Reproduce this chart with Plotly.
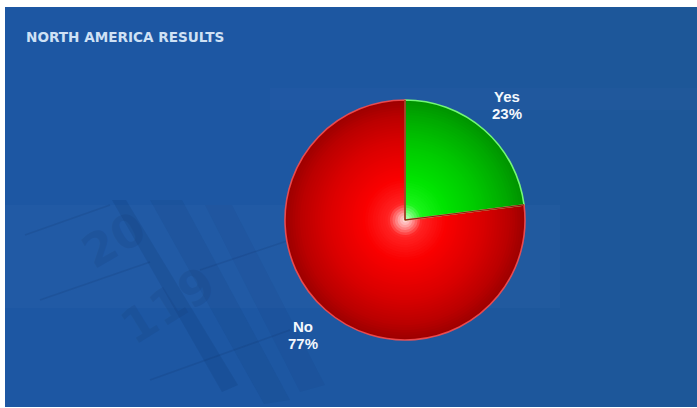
import plotly.graph_objects as go
import numpy as np

# Survey results
labels = ["Yes", "No"]
values = [23, 77]
title_text = "NORTH AMERICA RESULTS"

W, H = 697, 408
CX, CY, R = 405, 220, 120  # pie centre / radius in pixels

# Radial shading stops (fraction of radius -> rgb) for each slice
shade_stops = {
    "Yes": [(0.0, (215, 255, 215)), (0.06, (140, 255, 140)), (0.15, (25, 245, 25)),
            (0.35, (0, 228, 0)), (0.65, (0, 198, 0)), (0.88, (0, 168, 0)), (1.0, (0, 148, 0))],
    "No": [(0.0, (255, 235, 235)), (0.06, (255, 165, 165)), (0.15, (255, 35, 35)),
           (0.35, (250, 0, 0)), (0.65, (218, 0, 0)), (0.88, (185, 0, 0)), (1.0, (158, 0, 0))],
}
rim_colors = {"Yes": "rgba(120,255,120,0.95)", "No": "rgba(255,80,80,0.85)"}


def shade(name, t):
    stops = shade_stops[name]
    for (t0, c0), (t1, c1) in zip(stops[:-1], stops[1:]):
        if t <= t1:
            f = (t - t0) / (t1 - t0)
            c = [round(a + (b - a) * f) for a, b in zip(c0, c1)]
            return f"rgb({c[0]},{c[1]},{c[2]})"
    c = stops[-1][1]
    return f"rgb({c[0]},{c[1]},{c[2]})"


def domain_for(r):
    return dict(x=[(CX - r) / W, (CX + r) / W], y=[1 - (CY + r) / H, 1 - (CY - r) / H])


def px(x, y):
    return x / W, 1 - y / H


fig = go.Figure()

# Concentric pies give each slice a radial gradient
n_layers = 48
for i in range(n_layers):
    t = 1 - i / n_layers
    r = R * t
    fig.add_trace(go.Pie(
        labels=labels, values=values, sort=False, direction="clockwise", rotation=0,
        domain=domain_for(r),
        marker=dict(colors=[shade(l, t) for l in labels], line=dict(width=0)),
        textinfo="none", hoverinfo="skip", showlegend=False,
    ))

# Light rim around the outer edge
fig.add_trace(go.Pie(
    labels=labels, values=values, sort=False, direction="clockwise", rotation=0,
    domain=domain_for(R),
    marker=dict(colors=["rgba(0,0,0,0)"] * len(labels),
                line=dict(width=1.6, color=[rim_colors[l] for l in labels])),
    textinfo="none", hoverinfo="skip", showlegend=False,
))

shapes = []


def rect(x0, y0, x1, y1, col):
    a, b = px(x0, y1)
    c, d = px(x1, y0)
    return dict(type="rect", xref="paper", yref="paper", x0=a, y0=b, x1=c, y1=d,
                fillcolor=col, line=dict(width=0), layer="below")


# Backdrop: blue panel, softly lighter toward the upper left
shapes.append(rect(5, 7, W, 407, "#1d5797"))
for k in range(12):
    shapes.append(rect(5, 7, 700 - k * 40, 407, "rgba(120,170,235,0.012)"))
for k in range(10):
    shapes.append(rect(5, 7, W, 407 - k * 22, "rgba(120,170,235,0.008)"))
shapes.append(rect(5, 205, 560, 308, "rgba(150,190,240,0.03)"))
shapes.append(rect(270, 88, W, 110, "rgba(150,190,240,0.025)"))


# Faint calendar binding and rule lines in the backdrop
def path(points):
    pts = [px(x, y) for x, y in points]
    return "M " + " L ".join(f"{x:.5f},{y:.5f}" for x, y in pts) + " Z"


for pts, col in [
    ([(112, 200), (126, 200), (238, 385), (222, 392)], "rgba(10,40,90,0.14)"),
    ([(150, 200), (182, 200), (290, 400), (264, 404)], "rgba(10,40,90,0.09)"),
    ([(205, 205), (232, 205), (325, 385), (300, 392)], "rgba(10,40,90,0.06)"),
]:
    shapes.append(dict(type="path", xref="paper", yref="paper", path=path(pts),
                       fillcolor=col, line=dict(width=0), layer="below"))
for (x0, y0, x1, y1) in [(25, 235, 110, 205), (40, 300, 150, 262), (150, 380, 290, 330), (200, 270, 290, 240)]:
    a, b = px(x0, y0)
    c, d = px(x1, y1)
    shapes.append(dict(type="line", xref="paper", yref="paper", x0=a, y0=b, x1=c, y1=d,
                       line=dict(color="rgba(15,45,95,0.14)", width=1.5), layer="below"))

# Dark dividing lines between slices, at the cumulative slice angles
total = sum(values)
cum = np.cumsum([0] + values[:-1]) / total
for frac in cum:
    ang = 2 * np.pi * frac
    ex, ey = CX + R * np.sin(ang), CY - R * np.cos(ang)
    a, b = px(CX, CY)
    c, d = px(ex, ey)
    shapes.append(dict(type="line", xref="paper", yref="paper", x0=a, y0=b, x1=c, y1=d,
                       line=dict(color="rgba(110,20,0,0.85)", width=1.2), layer="above"))

annotations = []
# Title
tx, ty = px(24, 37)
annotations.append(dict(x=tx, y=ty, xref="paper", yref="paper", xanchor="left", yanchor="middle",
                        text=f"<b>{title_text}</b>", showarrow=False,
                        font=dict(family="DejaVu Sans", size=13.6, color="#cfe1f5")))

# Backdrop calendar numbers
for txt, (x, y), ang, size in [("20", (70, 282), -30, 46), ("119", (108, 358), -32, 48)]:
    ax, ay = px(x, y)
    annotations.append(dict(x=ax, y=ay, xref="paper", yref="paper", text=f"<b>{txt}</b>",
                            showarrow=False, textangle=ang,
                            font=dict(family="DejaVu Sans", size=size,
                                      color="rgba(20,55,110,0.16)")))

# Slice labels placed along each slice's mid-angle
mids = (np.cumsum(values) - np.array(values) / 2) / total
for lab, v, m in zip(labels, values, mids):
    ang = 2 * np.pi * m
    rl = R * 1.28
    lx, ly = CX + rl * np.sin(ang), CY - rl * np.cos(ang)
    for text, dy in [(lab, -8.5), (f"{v}%", 8.5)]:
        ax, ay = px(lx, ly + dy)
        annotations.append(dict(x=ax, y=ay, xref="paper", yref="paper", xanchor="center",
                                yanchor="middle", text=f"<b>{text}</b>", showarrow=False,
                                font=dict(family="Liberation Sans", size=15, color="#f4f8fd")))

fig.update_layout(
    width=W, height=H, margin=dict(l=0, r=0, t=0, b=0),
    paper_bgcolor="white", plot_bgcolor="white",
    shapes=shapes, annotations=annotations, showlegend=False,
)

fig.write_html("out.html", config={"displayModeBar": False})
